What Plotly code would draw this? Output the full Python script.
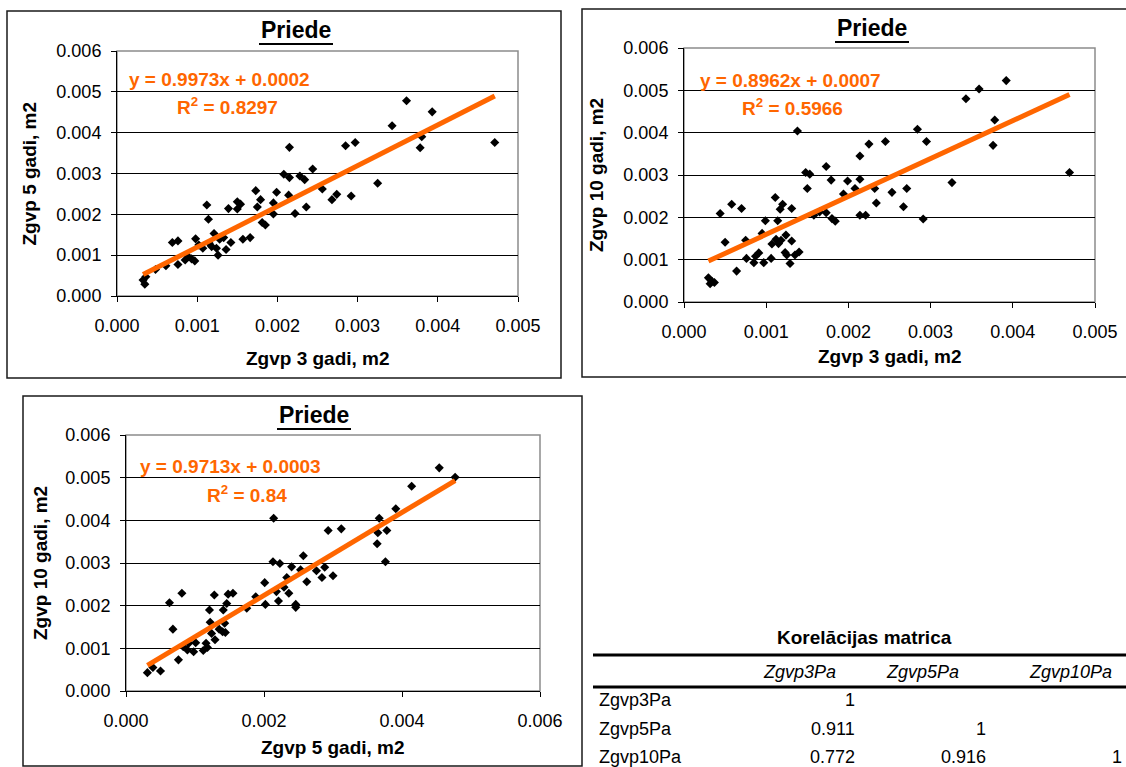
import plotly.graph_objects as go

W, H = 1126, 767

# ---------------- data ----------------
# Chart 1: Zgvp 3 gadi (x) vs Zgvp 5 gadi (y)
c1_x = [0.000325, 0.000347, 0.00036, 0.00048, 0.00061, 0.00069, 0.00076, 0.00076, 0.00085, 0.00089,
        0.00093, 0.00097, 0.00098, 0.00102, 0.00107, 0.00112, 0.00114, 0.00115, 0.00118, 0.00121,
        0.00124, 0.00126, 0.00128, 0.00133, 0.00136, 0.00139, 0.00142, 0.00150, 0.00150, 0.00154,
        0.00157, 0.00166, 0.00173, 0.00175, 0.00179, 0.00181, 0.00185, 0.00195, 0.00195, 0.00199,
        0.00208, 0.00215, 0.00215, 0.00214, 0.00222, 0.00228, 0.00234, 0.00236, 0.00244, 0.00256,
        0.00268, 0.00274, 0.00285, 0.00292, 0.00297, 0.00325, 0.00343, 0.00361, 0.00378, 0.00380,
        0.00393, 0.00471]
c1_y = [0.00039, 0.00029, 0.00047, 0.00065, 0.00074, 0.00131, 0.00135, 0.00077, 0.00088, 0.00096,
        0.00091, 0.00086, 0.00140, 0.00125, 0.00117, 0.00223, 0.00188, 0.00129, 0.00121, 0.00153,
        0.00117, 0.00100, 0.00139, 0.00143, 0.00114, 0.00214, 0.00131, 0.00231, 0.00213, 0.00225,
        0.00139, 0.00143, 0.00258, 0.00218, 0.00236, 0.00180, 0.00174, 0.00228, 0.00201, 0.00254,
        0.00298, 0.00364, 0.00290, 0.00247, 0.00202, 0.00294, 0.00285, 0.00218, 0.00311, 0.00262,
        0.00236, 0.00249, 0.00368, 0.00245, 0.00376, 0.00276, 0.00417, 0.00478, 0.00363, 0.00390,
        0.00451, 0.00376]

# Chart 2: Zgvp 3 gadi (x) vs Zgvp 10 gadi (y)
c2_x = [0.000297, 0.000318, 0.00034, 0.00037, 0.00044, 0.00050, 0.00058, 0.00064, 0.00070, 0.00075,
        0.00076, 0.00085, 0.00087, 0.00091, 0.00095, 0.00097, 0.00099, 0.00106, 0.00107, 0.00111,
        0.00112, 0.00114, 0.00115, 0.00117, 0.00118, 0.00120, 0.00123, 0.00124, 0.00125, 0.00129,
        0.00131, 0.00131, 0.00135, 0.00138, 0.00140, 0.00148, 0.00150, 0.00153, 0.00158, 0.00165,
        0.00173, 0.00173, 0.00179, 0.00180, 0.00184, 0.00194, 0.00199, 0.00208, 0.00214, 0.00214,
        0.00214, 0.00221, 0.00225, 0.00232, 0.00234, 0.00245, 0.00253, 0.00267, 0.00271, 0.00284,
        0.00291, 0.00295, 0.00326, 0.00343, 0.00359, 0.00376, 0.00378, 0.00392, 0.00469]
c2_y = [0.00057, 0.00043, 0.00049, 0.00046, 0.00209, 0.00141, 0.00231, 0.00073, 0.00221, 0.00146,
        0.00103, 0.00093, 0.00108, 0.00116, 0.00162, 0.00093, 0.00192, 0.00103, 0.00137, 0.00247,
        0.00148, 0.00192, 0.00138, 0.00219, 0.00146, 0.00231, 0.00117, 0.00158, 0.00111, 0.00091,
        0.00144, 0.00221, 0.00111, 0.00404, 0.00118, 0.00306, 0.00268, 0.00302, 0.00205, 0.00213,
        0.00320, 0.00211, 0.00288, 0.00197, 0.00191, 0.00255, 0.00286, 0.00268, 0.00205, 0.00290,
        0.00345, 0.00205, 0.00373, 0.00268, 0.00234, 0.00379, 0.00259, 0.00225, 0.00268, 0.00408,
        0.00196, 0.00379, 0.00282, 0.00480, 0.00503, 0.00370, 0.00430, 0.00523, 0.00306]

# Chart 3: Zgvp 5 gadi (x) vs Zgvp 10 gadi (y)
c3_x = [0.00031, 0.00039, 0.00050, 0.00063, 0.00068, 0.00076, 0.00081, 0.00083, 0.00089, 0.00091,
        0.00098, 0.00101, 0.00112, 0.00116, 0.00118, 0.00121, 0.00122, 0.00124, 0.00128, 0.00129,
        0.00135, 0.00140, 0.00141, 0.00143, 0.00144, 0.00146, 0.00148, 0.00155, 0.00175, 0.00188,
        0.00201, 0.00202, 0.00213, 0.00214, 0.00218, 0.00221, 0.00223, 0.00229, 0.00233, 0.00236,
        0.00240, 0.00246, 0.00246, 0.00253, 0.00257, 0.00262, 0.00276, 0.00284, 0.00288, 0.00293,
        0.00300, 0.00312, 0.00364, 0.00365, 0.00367, 0.00376, 0.00378, 0.00391, 0.00414, 0.00454,
        0.00477]
c3_y = [0.00043, 0.00055, 0.00047, 0.00207, 0.00145, 0.00073, 0.00229, 0.00104, 0.00096, 0.00112,
        0.00092, 0.00113, 0.00095, 0.00112, 0.00102, 0.00190, 0.00161, 0.00135, 0.00225, 0.00120,
        0.00145, 0.00139, 0.00190, 0.00159, 0.00137, 0.00205, 0.00227, 0.00229, 0.00194, 0.00221,
        0.00254, 0.00203, 0.00303, 0.00405, 0.00233, 0.00211, 0.00299, 0.00243, 0.00266, 0.00229,
        0.00291, 0.00203, 0.00196, 0.00284, 0.00317, 0.00256, 0.00282, 0.00266, 0.00290, 0.00376,
        0.00270, 0.00380, 0.00345, 0.00371, 0.00405, 0.00303, 0.00376, 0.00427, 0.00480, 0.00523,
        0.00501]

# trendline coefficients (as printed on the chart)
slopes = [0.9973, 0.8962, 0.9713]
intercepts = [0.0002, 0.0007, 0.0003]
eq_texts = ["y = 0.9973x + 0.0002", "y = 0.8962x + 0.0007", "y = 0.9713x + 0.0003"]
r2_texts = ["0.8297", "0.5966", "0.84"]

chart_titles = ["Priede", "Priede", "Priede"]
x_titles = ["Zgvp 3 gadi, m2", "Zgvp 3 gadi, m2", "Zgvp 5 gadi, m2"]
y_titles = ["Zgvp 5 gadi, m2", "Zgvp 10 gadi, m2", "Zgvp 10 gadi, m2"]

y_ticks = [0.000, 0.001, 0.002, 0.003, 0.004, 0.005, 0.006]
y_ticktext = ["0.000", "0.001", "0.002", "0.003", "0.004", "0.005", "0.006"]
x_ticks_a = [0.000, 0.001, 0.002, 0.003, 0.004, 0.005]
x_ticktext_a = ["0.000", "0.001", "0.002", "0.003", "0.004", "0.005"]
x_ticks_b = [0.000, 0.002, 0.004, 0.006]
x_ticktext_b = ["0.000", "0.002", "0.004", "0.006"]

# correlation table
table_title = "Korelācijas matrica"
table_cols = ["Zgvp3Pa", "Zgvp5Pa", "Zgvp10Pa"]
table_rows = ["Zgvp3Pa", "Zgvp5Pa", "Zgvp10Pa"]
table_vals = [["1", "", ""],
              ["0.911", "1", ""],
              ["0.772", "0.916", "1"]]

# ---------------- layout helpers ----------------
FONT = "Liberation Sans, Arial, sans-serif"
ORANGE = "#FF6600"


def px(x):
    return x / W


def py(y):
    return 1 - y / H


# plot-area boxes in pixels: (left, top, right, bottom)
plot_boxes = [(117, 51, 518, 296), (684, 48, 1095, 302), (126, 435, 540, 691)]
chart_boxes = [(7, 11, 561, 378), (582, 9, 1130, 377), (23, 396, 582, 766)]
title_pos = [(296, 30), (872, 28), (314, 415)]
eq_pos = [(127, 79), (698, 80), (138, 467)]
r2_pos = [(175, 106), (740, 107), (205, 494)]
ytitle_x = [29, 596, 40]
xtitle_y = [358, 357, 747]

data_sets = [(c1_x, c1_y), (c2_x, c2_y), (c3_x, c3_y)]
x_tick_sets = [(x_ticks_a, x_ticktext_a), (x_ticks_a, x_ticktext_a), (x_ticks_b, x_ticktext_b)]

fig = go.Figure()
shapes = []
annotations = []

for i in range(3):
    xs, ys = data_sets[i]
    suffix = "" if i == 0 else str(i + 1)
    xa, ya = "x" + suffix, "y" + suffix
    fig.add_trace(go.Scatter(
        x=xs, y=ys, mode="markers", xaxis=xa, yaxis=ya,
        marker=dict(symbol="diamond", size=7, color="black", line=dict(width=0)),
        showlegend=False, hoverinfo="x+y"))
    x0, x1 = min(xs), max(xs)
    fig.add_trace(go.Scatter(
        x=[x0, x1], y=[slopes[i] * x0 + intercepts[i], slopes[i] * x1 + intercepts[i]],
        mode="lines", xaxis=xa, yaxis=ya,
        line=dict(color=ORANGE, width=5), showlegend=False, hoverinfo="skip"))

    l, t, r, b = plot_boxes[i]
    tv, tt = x_tick_sets[i]
    axis_common = dict(ticks="outside", ticklen=5, tickcolor="black", tickwidth=1,
                       showline=True, linecolor="black", linewidth=1, zeroline=False,
                       automargin=False,
                       tickfont=dict(family=FONT, size=18, color="black"))
    fig.layout["xaxis" + suffix] = dict(
        domain=[px(l), px(r)], anchor=ya, range=[0, tv[-1]], tickvals=tv, ticktext=tt,
        showgrid=False, ticklabelstandoff=8, **axis_common)
    fig.layout["yaxis" + suffix] = dict(
        domain=[py(b), py(t)], anchor=xa, range=[0, 0.006], tickvals=y_ticks, ticktext=y_ticktext,
        showgrid=True, gridcolor="black", gridwidth=1, ticklabelstandoff=6, **axis_common)

    # gray plot-area frame
    shapes.append(dict(type="rect", xref=xa + " domain", yref=ya + " domain",
                       x0=0, x1=1, y0=0, y1=1, line=dict(color="#8c8c8c", width=1.5),
                       layer="below"))
    # chart border
    cl, ct, cr, cb = chart_boxes[i]
    shapes.append(dict(type="rect", xref="paper", yref="paper",
                       x0=px(cl), x1=px(cr), y0=py(cb), y1=py(ct),
                       line=dict(color="#1a1a1a", width=1.5)))
    # title + underline
    tx, ty = title_pos[i]
    annotations.append(dict(x=px(tx), y=py(ty), xref="paper", yref="paper", showarrow=False,
                            text="<b>" + chart_titles[i] + "</b>",
                            font=dict(family=FONT, size=23, color="black"),
                            xanchor="center", yanchor="middle"))
    shapes.append(dict(type="line", xref="paper", yref="paper",
                       x0=px(tx - 37), x1=px(tx + 37), y0=py(ty + 14), y1=py(ty + 14),
                       line=dict(color="black", width=2)))
    # equation + R2
    ex, ey = eq_pos[i]
    annotations.append(dict(x=px(ex), y=py(ey), xref="paper", yref="paper", showarrow=False,
                            text="<b>" + eq_texts[i] + "</b>",
                            font=dict(family=FONT, size=19, color=ORANGE),
                            xanchor="left", yanchor="middle"))
    rx, ry = r2_pos[i]
    annotations.append(dict(x=px(rx), y=py(ry), xref="paper", yref="paper", showarrow=False,
                            text="<b>R<sup>2</sup> = " + r2_texts[i] + "</b>",
                            font=dict(family=FONT, size=19, color=ORANGE),
                            xanchor="left", yanchor="middle"))
    # axis titles
    annotations.append(dict(x=px((l + r) / 2), y=py(xtitle_y[i]), xref="paper", yref="paper",
                            showarrow=False, text="<b>" + x_titles[i] + "</b>",
                            font=dict(family=FONT, size=19, color="black"),
                            xanchor="center", yanchor="middle"))
    annotations.append(dict(x=px(ytitle_x[i]), y=py((t + b) / 2), xref="paper", yref="paper",
                            showarrow=False, text="<b>" + y_titles[i] + "</b>", textangle=-90,
                            font=dict(family=FONT, size=19, color="black"),
                            xanchor="center", yanchor="middle"))

# ---------------- correlation table ----------------
annotations.append(dict(x=px(864), y=py(637), xref="paper", yref="paper", showarrow=False,
                        text="<b>" + table_title + "</b>",
                        font=dict(family=FONT, size=19, color="black"),
                        xanchor="center", yanchor="middle"))
for yline in (655, 687):
    shapes.append(dict(type="line", xref="paper", yref="paper",
                       x0=px(593), x1=px(1126), y0=py(yline), y1=py(yline),
                       line=dict(color="black", width=3)))
col_centers = [799, 922, 1070]
col_rights = [857, 988, 1124]
row_ys = [700, 729, 757]
for j, c in enumerate(table_cols):
    annotations.append(dict(x=px(col_centers[j]), y=py(672), xref="paper", yref="paper",
                            showarrow=False, text="<i>" + c + "</i>",
                            font=dict(family=FONT, size=18, color="black"),
                            xanchor="center", yanchor="middle"))
for i, rname in enumerate(table_rows):
    annotations.append(dict(x=px(597), y=py(row_ys[i]), xref="paper", yref="paper",
                            showarrow=False, text=rname,
                            font=dict(family=FONT, size=18, color="black"),
                            xanchor="left", yanchor="middle"))
    for j in range(3):
        if table_vals[i][j]:
            annotations.append(dict(x=px(col_rights[j]), y=py(row_ys[i]), xref="paper",
                                    yref="paper", showarrow=False, text=table_vals[i][j],
                                    font=dict(family=FONT, size=18, color="black"),
                                    xanchor="right", yanchor="middle"))

fig.update_layout(width=W, height=H,
                  margin=dict(l=0, r=0, t=0, b=0, pad=0, autoexpand=False),
                  paper_bgcolor="white", plot_bgcolor="white",
                  shapes=shapes, annotations=annotations, showlegend=False,
                  font=dict(family=FONT, color="black"))

fig.write_html("out.html", config={"displayModeBar": False},
               post_script="document.body.style.margin='0';document.body.style.overflow='hidden';")
